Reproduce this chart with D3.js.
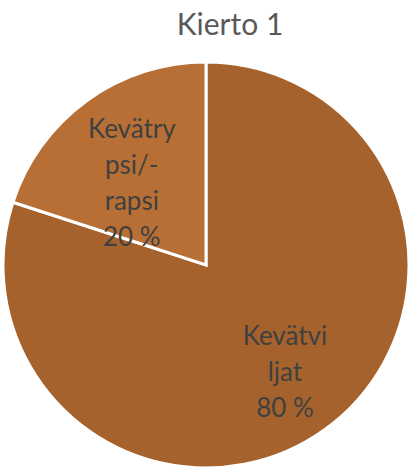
<!DOCTYPE html>
<html>
<head>
<meta charset="utf-8">
<script src="https://cdn.jsdelivr.net/npm/d3@7"></script>
<style>
  body { margin: 0; background: #fff; }
  svg { display: block; font-family: Lato, "Open Sans", sans-serif; }
</style>
</head>
<body>
<svg id="chart" width="412" height="472"></svg>
<script>
const title = "Kierto 1";
const categories = ["Kevätviljat", "Kevätrypsi/-rapsi"];
const values = [80, 20];
// Excel wraps the category names inside the slices
const labelLines = [["Kevätvi", "ljat"], ["Kevätry", "psi/-", "rapsi"]];
const colors = ["#a5622d", "#b86f35"];

const width = 412, height = 472;
const cx = 206, cy = 265, radius = 203;

const svg = d3.select("#chart");

svg.append("text")
  .attr("x", 230)
  .attr("y", 35)
  .attr("text-anchor", "middle")
  .attr("fill", "#595959")
  .attr("font-size", 30)
  .text(title);

const data = categories.map((c, i) => ({ name: c, value: values[i], lines: labelLines[i], color: colors[i] }));

const pie = d3.pie().sort(null).value(d => d.value);
const arcs = pie(data);

const arc = d3.arc().innerRadius(0).outerRadius(radius);

const g = svg.append("g").attr("transform", `translate(${cx},${cy})`);

g.selectAll("path")
  .data(arcs)
  .join("path")
  .attr("d", arc)
  .attr("fill", d => d.data.color)
  .attr("stroke", "#fff")
  .attr("stroke-width", 3)
  .attr("stroke-linejoin", "miter");

// label distance from centre, as a fraction of radius, plus a small nudge
// so the wrapped blocks sit where Excel put them
const labelFrac = [0.645, 0.53];
const labelNudge = [[2, 1], [-11, 5]];
const lineH = 36;

g.selectAll("g.label")
  .data(arcs)
  .join("g")
  .attr("class", "label")
  .each(function (d, i) {
    const r = radius * labelFrac[i];
    const lArc = d3.arc().innerRadius(r).outerRadius(r);
    let [x, y] = lArc.centroid(d);
    x += labelNudge[i][0];
    y += labelNudge[i][1];
    const lines = d.data.lines.concat([d3.format(".0f")(d.data.value) + " %"]);
    const top = y - (lines.length - 1) * lineH / 2;
    d3.select(this).selectAll("text")
      .data(lines)
      .join("text")
      .attr("x", x)
      .attr("y", (t, j) => top + j * lineH)
      .attr("dy", "0.35em")
      .attr("text-anchor", "middle")
      .attr("fill", "#404040")
      .attr("font-size", 26)
      .text(t => t);
  });
</script>
</body>
</html>
